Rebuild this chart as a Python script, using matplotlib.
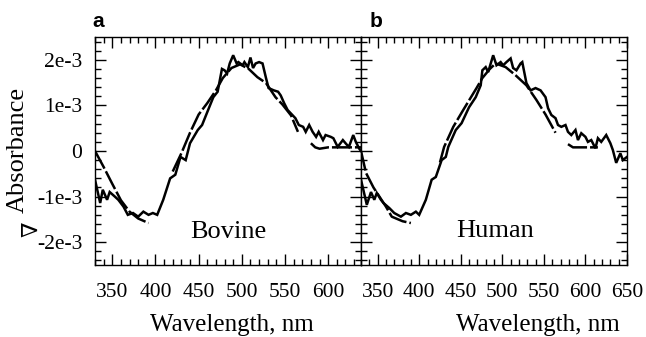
import matplotlib
matplotlib.use("Agg")
import matplotlib.pyplot as plt
from matplotlib.ticker import MultipleLocator

# ---------------- data (absorbance in units of 1e-3) ----------------
bovine_wl = [330, 336, 339, 344, 347, 353, 357, 363, 368, 374, 380, 386, 392, 397, 402,
             409, 417, 423, 429, 435, 440, 449, 454, 461, 467, 472, 475, 477, 480, 483,
             486, 490, 494, 496, 501, 503, 507, 510, 513, 516, 520, 524, 528, 531, 537,
             542, 545, 549, 553, 558, 562, 566, 571, 574, 578, 582, 586, 589, 594, 597,
             603, 606, 611, 617, 621, 624, 629, 632, 636, 638]
bovine_abs = [-0.63, -1.14, -0.85, -1.07, -0.90, -1.00, -1.07, -1.22, -1.40, -1.36, -1.44,
              -1.33, -1.40, -1.36, -1.40, -1.07, -0.60, -0.52, -0.13, -0.20, 0.17, 0.46,
              0.57, 0.90, 1.18, 1.30, 1.60, 1.80, 1.77, 1.70, 1.92, 2.10, 1.92, 1.95, 1.88,
              1.95, 1.84, 2.05, 1.82, 1.92, 1.95, 1.92, 1.60, 1.38, 1.33, 1.30, 1.22, 1.05,
              0.90, 0.80, 0.72, 0.57, 0.53, 0.42, 0.57, 0.42, 0.31, 0.42, 0.24, 0.35, 0.31,
              0.28, 0.09, 0.24, 0.15, 0.09, 0.35, 0.20, 0.05, 0.00]

bovine_fit1_wl = [330, 340, 350, 360, 370, 380, 392]
bovine_fit1 = [0.0, -0.35, -0.72, -1.08, -1.33, -1.48, -1.58]
bovine_fit2_wl = [420, 430, 440, 450, 460, 470, 478, 488, 498, 508, 518, 528, 539, 547, 557, 565]
bovine_fit2 = [-0.45, -0.05, 0.40, 0.80, 1.05, 1.33, 1.60, 1.82, 1.90, 1.80, 1.62, 1.49, 1.18,
               1.02, 0.78, 0.42]
bovine_fit3_wl = [580, 585, 590, 600, 620, 638]
bovine_fit3 = [0.17, 0.08, 0.05, 0.08, 0.08, 0.08]

human_wl = [330, 337, 342, 346, 349, 354, 357, 364, 370, 378, 384, 390, 396, 400, 408, 415,
            420, 427, 432, 435, 444, 451, 460, 468, 474, 476, 480, 483, 489, 493, 498, 501,
            505, 510, 513, 517, 522, 524, 529, 534, 540, 546, 552, 555, 559, 564, 567, 571,
            576, 579, 583, 588, 591, 595, 600, 603, 607, 612, 615, 619, 625, 630, 633, 637,
            642, 645, 650]
human_abs = [-0.63, -1.18, -0.90, -1.07, -0.92, -1.07, -1.14, -1.25, -1.36, -1.44, -1.36,
             -1.40, -1.33, -1.40, -1.07, -0.63, -0.57, -0.20, -0.13, 0.09, 0.46, 0.61, 0.96,
             1.18, 1.44, 1.77, 1.84, 1.73, 2.10, 1.88, 1.95, 1.88, 1.95, 2.03, 1.82, 1.77,
             1.92, 1.95, 1.49, 1.33, 1.38, 1.33, 1.18, 0.94, 0.79, 0.72, 0.57, 0.53, 0.57,
             0.42, 0.35, 0.46, 0.24, 0.39, 0.31, 0.20, 0.24, 0.06, 0.28, 0.20, 0.35, 0.17,
             0.02, -0.26, -0.05, -0.20, -0.13]

human_fit1_wl = [330, 336, 345, 360, 367, 380, 390]
human_fit1 = [0.0, -0.48, -0.80, -1.22, -1.44, -1.54, -1.58]
human_fit2_wl = [425, 430, 441, 453, 469, 476, 485, 492, 504, 516, 529, 541, 552, 564]
human_fit2 = [-0.25, 0.09, 0.53, 0.90, 1.38, 1.60, 1.80, 1.92, 1.84, 1.66, 1.44, 1.12, 0.80, 0.40]
human_fit3_wl = [579, 585, 600, 615]
human_fit3 = [0.15, 0.08, 0.08, 0.08]

ytick_vals = [-2, -1, 0, 1, 2]
ytick_labels = ["-2e-3", "-1e-3", "0", "1e-3", "2e-3"]
xticks_left = [350, 400, 450, 500, 550, 600]
xticks_right = [350, 400, 450, 500, 550, 600, 650]

# ---------------- figure ----------------
W, H = 646, 337
fig = plt.figure(figsize=(W / 100, H / 100), dpi=100)
serif = ["Liberation Serif", "DejaVu Serif"]

def px_axes(x0, x1, y0, y1):
    return fig.add_axes([x0 / W, (H - y1) / H, (x1 - x0) / W, (y1 - y0) / H])

axL = px_axes(95, 361, 37, 265)
axR = px_axes(361, 627, 37, 265)

def style(ax, xlim, xticks, show_y):
    ax.set_xlim(*xlim)
    ax.set_ylim(-2.5, 2.5)
    ax.set_xticks(xticks)
    ax.set_xticklabels([str(t) for t in xticks], family=serif, fontsize=15.5)
    ax.xaxis.set_minor_locator(MultipleLocator(10))
    ax.set_yticks(ytick_vals)
    if show_y:
        ax.set_yticklabels(ytick_labels, family=serif, fontsize=15.5)
    else:
        ax.set_yticklabels([])
    ax.yaxis.set_minor_locator(MultipleLocator(0.2))
    ax.tick_params(which="both", direction="in", top=True, right=True, width=1.0, color="black")
    ax.tick_params(which="major", length=8)
    ax.tick_params(which="minor", length=4)
    ax.tick_params(axis="x", pad=13)
    ax.tick_params(axis="y", pad=9)
    for s in ax.spines.values():
        s.set_linewidth(1.0)
        s.set_color("black")

lw = 1.8
dash = (8, 1.2)
for ax, wl, ab, fits, xlim, xt, show_y in [
    (axL, bovine_wl, bovine_abs,
     [(bovine_fit1_wl, bovine_fit1), (bovine_fit2_wl, bovine_fit2), (bovine_fit3_wl, bovine_fit3)],
     (330, 638), xticks_left, True),
    (axR, human_wl, human_abs,
     [(human_fit1_wl, human_fit1), (human_fit2_wl, human_fit2), (human_fit3_wl, human_fit3)],
     (330, 650), xticks_right, False),
]:
    ax.plot(wl, ab, color="black", lw=lw, solid_joinstyle="miter")
    for fw, fv in fits:
        ax.plot(fw, fv, color="black", lw=lw, dashes=dash)
    style(ax, xlim, xt, show_y)

axL.text(440, -1.9, "Bovine", family=serif, fontsize=19, ha="left", va="baseline")
axR.text(444, -1.88, "Human", family=serif, fontsize=19, ha="left", va="baseline")

# axis titles
fig.text(232 / W, 0.003, "Wavelength, nm", family=serif, fontsize=18, ha="center", va="bottom")
fig.text(538 / W, 0.003, "Wavelength, nm", family=serif, fontsize=18, ha="center", va="bottom")
fig.text(17.5 / W, (H - 150) / H, "Absorbance", family=serif, fontsize=19, rotation=90,
         ha="center", va="center")
fig.text(32.5 / W, (H - 229) / H, "\u2207", family=serif, fontsize=16, rotation=90,
         ha="center", va="center")

# panel letters
fig.text(92 / W, (H - 27) / H, "a", family=["Liberation Sans", "DejaVu Sans"], fontsize=15,
         fontweight="bold", ha="left", va="baseline")
fig.text(370 / W, (H - 27) / H, "b", family=["Liberation Sans", "DejaVu Sans"], fontsize=15,
         fontweight="bold", ha="left", va="baseline")

fig.savefig("out.png", dpi=100)
